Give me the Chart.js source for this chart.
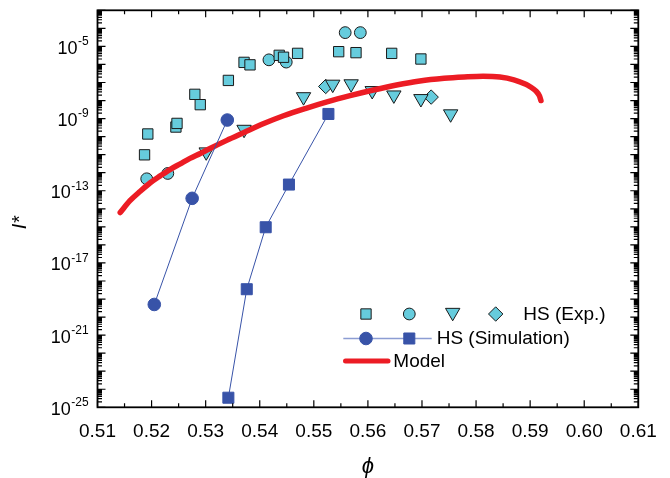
<!DOCTYPE html>
<html>
<head>
<meta charset="utf-8">
<script src="https://cdn.jsdelivr.net/npm/chart.js@4.4.0/dist/chart.umd.min.js"></script>
<style>
html,body{margin:0;padding:0;background:#fff;}
#wrap{width:670px;height:478px;}
</style>
</head>
<body>
<div id="wrap"><canvas id="c" width="670" height="478"></canvas></div>
<script>
// ---- data ----
const expSquarePhi = [0.5187,0.5193,0.5245,0.5247,0.5280,0.5290,0.5342,0.5371,0.5382,0.5436,0.5444,0.5470,0.5546,0.5578,0.5644,0.5698];
const expSquareI   = [9.8e-12,1.4e-10,3.4e-10,5.4e-10,2.2e-8,5.9e-9,1.3e-7,1.3e-6,9.5e-7,3.2e-6,2.5e-6,4.1e-6,5.1e-6,4.5e-6,4.1e-6,2.0e-6];
const expCirclePhi = [0.5191,0.5230,0.5417,0.5449,0.5558,0.5586];
const expCircleI   = [4.6e-13,9.1e-13,1.8e-6,1.35e-6,5.8e-5,5.8e-5];
const expTrianglePhi = [0.5301,0.5371,0.5481,0.5535,0.5569,0.5608,0.5648,0.5698,0.5753];
const expTriangleI   = [1.4e-11,2.5e-10,1.6e-8,7.9e-8,8.3e-8,3.5e-8,2.0e-8,1.26e-8,1.8e-9];
const expDiamondPhi = [0.5522,0.5717];
const expDiamondI   = [6.0e-8,1.55e-8];
const simCirclePhi = [0.5205,0.5275,0.5340];
const simCircleI   = [5.0e-20,3.8e-14,8.3e-10];
const simSquarePhi = [0.5342,0.5376,0.5411,0.5454,0.5527];
const simSquareI   = [3.4e-25,3.5e-19,9.5e-16,2.2e-13,1.8e-9];
const modelPhi = [0.5142,0.5160,0.5179,0.5197,0.5216,0.5234,0.5253,0.5271,0.5290,0.5308,0.5339,0.5371,0.5404,0.5444,0.5484,0.5526,0.5567,0.5608,0.5653,0.5696,0.5741,0.5778,0.5813,0.5844,0.5870,0.5892,0.5900,0.5911,0.5917,0.5920];
const modelI   = [6.2e-15,2.8e-14,9.4e-14,2.7e-13,6.7e-13,1.5e-12,3.1e-12,6.2e-12,1.17e-11,2.2e-11,6.2e-11,1.7e-10,4.8e-10,1.43e-9,3.6e-9,8.7e-9,1.85e-8,3.7e-8,7.3e-8,1.22e-7,1.7e-7,2.0e-7,2.2e-7,2.0e-7,1.4e-7,7.9e-8,5.8e-8,3.3e-8,1.85e-8,1.0e-8];

const xTickValues = [0.51,0.52,0.53,0.54,0.55,0.56,0.57,0.58,0.59,0.60,0.61];
const xTickLabels = ['0.51','0.52','0.53','0.54','0.55','0.56','0.57','0.58','0.59','0.60','0.61'];
const yTickValues = [1e-25,1e-21,1e-17,1e-13,1e-9,1e-5];
const yTickBase = '10';
const yTickExponents = ['-25','-21','-17','-13','-9','-5'];
const legendLabels = ['HS (Exp.)','HS (Simulation)','Model'];

const CYAN = '#66CCDD', EDGE = '#1a1a1a', BLUE = '#3853A8', LBLUE = '#8C9DD3', RED = '#EC1C24';
const FONT = "'Liberation Sans', Arial, sans-serif";

function pts(xs, ys){ return xs.map((x,i)=>({x:x, y:ys[i]})); }

function drawShape(ctx, style, x, y, r, rot){
  ctx.beginPath();
  if(style==='circle'){ ctx.arc(x,y,r,0,Math.PI*2); }
  else if(style==='rect'){ const s=Math.SQRT1_2*r; ctx.rect(x-s,y-s,2*s,2*s); }
  else if(style==='rectRot'){ ctx.moveTo(x,y-r); ctx.lineTo(x+r,y); ctx.lineTo(x,y+r); ctx.lineTo(x-r,y); ctx.closePath(); }
  else if(style==='triangle'){
    let a = (rot||0)*Math.PI/180;
    ctx.moveTo(x+Math.sin(a)*r, y-Math.cos(a)*r);
    a += 2*Math.PI/3; ctx.lineTo(x+Math.sin(a)*r, y-Math.cos(a)*r);
    a += 2*Math.PI/3; ctx.lineTo(x+Math.sin(a)*r, y-Math.cos(a)*r);
    ctx.closePath();
  }
}

const framePlugin = {
  id:'frame',
  afterDraw(chart){
    const ctx = chart.ctx, a = chart.chartArea, xs = chart.scales.x, ys = chart.scales.y;
    ctx.save();
    ctx.strokeStyle = '#000';
    // inward tick marks on all four sides
    ctx.lineWidth = 1.2;
    ctx.beginPath();
    for(let k=0;k<=20;k++){
      const v = 0.51 + k*0.005;
      const px = xs.getPixelForValue(v);
      const L = (k%2===0) ? 7 : 4;
      ctx.moveTo(px, a.bottom); ctx.lineTo(px, a.bottom-L);
      ctx.moveTo(px, a.top); ctx.lineTo(px, a.top+L);
    }
    for(let d=-25; d<=-3; d++){
      const py = ys.getPixelForValue(Math.pow(10,d));
      ctx.moveTo(a.left, py); ctx.lineTo(a.left+8, py);
      ctx.moveTo(a.right, py); ctx.lineTo(a.right-8, py);
      if(d<-3){
        for(let m=2;m<=9;m++){
          const pm = ys.getPixelForValue(m*Math.pow(10,d));
          ctx.moveTo(a.left, pm); ctx.lineTo(a.left+4.5, pm);
          ctx.moveTo(a.right, pm); ctx.lineTo(a.right-4.5, pm);
        }
      }
    }
    ctx.stroke();
    // frame
    ctx.lineWidth = 1.8;
    ctx.strokeRect(a.left, a.top, a.right-a.left, a.bottom-a.top);

    // y tick labels with superscript exponents, placed by the y scale
    ctx.fillStyle = '#000';
    ctx.textBaseline = 'alphabetic';
    ctx.textAlign = 'left';
    const rightEdge = a.left - 8.8;
    ys.ticks.forEach((t, i) => {
      const py = ys.getPixelForValue(t.value);
      const ex = yTickExponents[i];
      ctx.font = '12px ' + FONT;
      const we = ctx.measureText(ex).width;
      ctx.font = '18px ' + FONT;
      const wb = ctx.measureText(yTickBase).width;
      const xb = rightEdge - we - 0.5 - wb;
      ctx.fillText(yTickBase, xb, py + 7.4);
      ctx.font = '12px ' + FONT;
      ctx.fillText(ex, rightEdge - we, py - 1.2);
    });

    // legend
    const y1 = 314, y2 = 338.5, y3 = 361;
    ctx.lineWidth = 1;
    ctx.fillStyle = CYAN; ctx.strokeStyle = EDGE;
    drawShape(ctx,'rect',366,y1,7.3); ctx.fill(); ctx.stroke();
    drawShape(ctx,'circle',409.3,y1,5.9); ctx.fill(); ctx.stroke();
    drawShape(ctx,'triangle',452.7,y1-1.5,8.3,180); ctx.fill(); ctx.stroke();
    drawShape(ctx,'rectRot',495.7,y1,7.2); ctx.fill(); ctx.stroke();
    ctx.strokeStyle = LBLUE; ctx.lineWidth = 1.5;
    ctx.beginPath(); ctx.moveTo(343.3,y2); ctx.lineTo(431.7,y2); ctx.stroke();
    ctx.fillStyle = BLUE; ctx.strokeStyle = BLUE; ctx.lineWidth = 1;
    drawShape(ctx,'circle',366,y2,6.3); ctx.fill(); ctx.stroke();
    drawShape(ctx,'rect',409.3,y2,7.8); ctx.fill(); ctx.stroke();
    ctx.strokeStyle = RED; ctx.lineWidth = 5; ctx.lineCap = 'round';
    ctx.beginPath(); ctx.moveTo(345.5,y3); ctx.lineTo(388,y3); ctx.stroke();
    ctx.fillStyle = '#000';
    ctx.font = '19px ' + FONT;
    ctx.textBaseline = 'middle'; ctx.textAlign = 'left';
    ctx.fillText(legendLabels[0], 523.3, y1+1);
    ctx.fillText(legendLabels[1], 436.7, y2);
    ctx.fillText(legendLabels[2], 393.3, y3+1);
    ctx.restore();
  }
};

new Chart(document.getElementById('c'), {
  type:'scatter',
  data:{
    datasets:[
      {label:'HS (Simulation) circles', data:pts(simCirclePhi, simCircleI), showLine:true,
       borderColor:BLUE, borderWidth:1, pointStyle:'circle', pointRadius:6.3,
       pointBackgroundColor:BLUE, pointBorderColor:BLUE, pointBorderWidth:1},
      {label:'HS (Simulation) squares', data:pts(simSquarePhi, simSquareI), showLine:true,
       borderColor:BLUE, borderWidth:1, pointStyle:'rect', pointRadius:7.8,
       pointBackgroundColor:BLUE, pointBorderColor:BLUE, pointBorderWidth:1},
      {label:'Model', data:pts(modelPhi, modelI), showLine:true, borderColor:RED, borderWidth:5.5,
       borderCapStyle:'round', borderJoinStyle:'round', pointRadius:0, cubicInterpolationMode:'monotone'},
      {label:'Exp squares', data:pts(expSquarePhi, expSquareI), pointStyle:'rect', pointRadius:7.3,
       pointBackgroundColor:CYAN, pointBorderColor:EDGE, pointBorderWidth:1},
      {label:'Exp circles', data:pts(expCirclePhi, expCircleI), pointStyle:'circle', pointRadius:5.9,
       pointBackgroundColor:CYAN, pointBorderColor:EDGE, pointBorderWidth:1},
      {label:'Exp triangles', data:pts(expTrianglePhi, expTriangleI), pointStyle:'triangle', rotation:180, pointRadius:8.3,
       pointBackgroundColor:CYAN, pointBorderColor:EDGE, pointBorderWidth:1},
      {label:'Exp diamonds', data:pts(expDiamondPhi, expDiamondI), pointStyle:'rectRot', pointRadius:7.2,
       pointBackgroundColor:CYAN, pointBorderColor:EDGE, pointBorderWidth:1}
    ]
  },
  options:{
    responsive:false, animation:false, devicePixelRatio:1,
    layout:{padding:{top:10.3, right:31.7, left:0, bottom:0}},
    plugins:{legend:{display:false}, tooltip:{enabled:false}},
    scales:{
      x:{type:'linear', position:'bottom', min:0.51, max:0.61,
         afterBuildTicks(s){ s.ticks = xTickValues.map(v=>({value:v})); },
         afterFit(s){ s.height = 70.7; },
         grid:{display:false, drawTicks:false}, border:{display:false},
         ticks:{padding:13, color:'#000', font:{family:FONT, size:19}, maxRotation:0, autoSkip:false,
                callback:(v,i)=>xTickLabels[i]},
         title:{display:true, text:'\u03D5', color:'#000', font:{family:FONT, size:22, style:'italic', lineHeight:1}, padding:{top:0,bottom:0}}
      },
      y:{type:'logarithmic', position:'left', min:1e-25, max:1e-3,
         afterBuildTicks(s){ s.ticks = yTickValues.map(v=>({value:v})); },
         afterFit(s){ s.width = 97.5; },
         grid:{display:false, drawTicks:false}, border:{display:false},
         ticks:{display:false},
         title:{display:true, text:'I*     ', color:'#000', font:{family:FONT, size:20, style:'italic', lineHeight:1}, padding:{top:10,bottom:0}}
      }
    }
  },
  plugins:[framePlugin]
});
</script>
</body>
</html>
